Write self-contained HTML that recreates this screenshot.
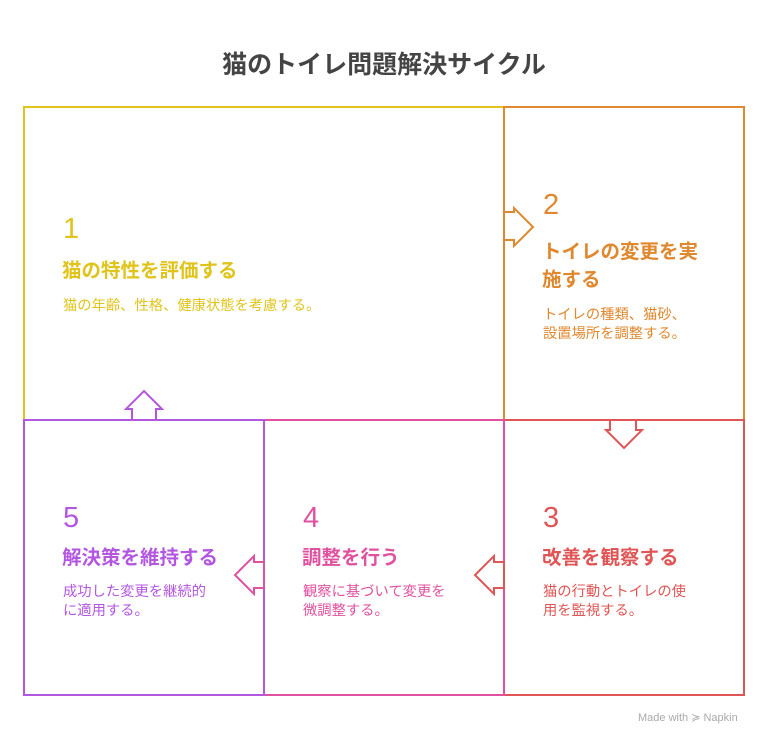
<!DOCTYPE html>
<html><head><meta charset="utf-8"><style>
body{margin:0;width:768px;height:744px;background:#fff;position:relative;overflow:hidden;font-family:"Liberation Sans","Noto Sans CJK JP",sans-serif}
.t{position:absolute;white-space:nowrap}
.n{font-size:29px;line-height:30px}
.h{font-size:19.5px;font-weight:bold;line-height:28px}
.d{font-size:14.3px;line-height:19px}
</style></head><body>
<div class="t" style="left:0;width:768px;text-align:center;top:49px;font-size:25px;font-weight:bold;color:#444;line-height:32px">猫のトイレ問題解決サイクル</div>
<svg width="768" height="744" style="position:absolute;left:0;top:0" fill="#fff" stroke-width="2">
<rect x="24" y="107" width="480" height="313" stroke="#e0c41c"/>
<rect x="504" y="107" width="240" height="313" stroke="#e0882e"/>
<rect x="504" y="420" width="240" height="275" stroke="#e05555"/>
<rect x="264" y="420" width="240" height="275" stroke="#e052a0"/>
<rect x="24" y="420" width="240" height="275" stroke="#b457e0"/>
<polygon points="504,212 514,212 514,208 533,227 514,246 514,240 504,240" stroke="#e0882e"/>
<polygon points="610,420 610,430 606,430 624,448 642,430 636,430 636,420" stroke="#e05555"/>
<polygon points="504,562 494,562 494,556 475,575 494,594 494,588 504,588" stroke="#e05555"/>
<polygon points="264,562 254,562 254,556 235,575 254,594 254,588 264,588" stroke="#e052a0"/>
<polygon points="132,420 132,409 126,409 144,391 162,409 156,409 156,420" stroke="#b457e0"/>
</svg>
<div class="t n" style="left:63px;top:214px;color:#e0c41c">1</div>
<div class="t h" style="left:62px;top:257px;color:#e0c41c">猫の特性を評価する</div>
<div class="t d" style="left:63px;top:297px;color:#e0c41c">猫の年齢、性格、健康状態を考慮する。</div>
<div class="t n" style="left:543px;top:190px;color:#e0882e">2</div>
<div class="t h" style="left:542px;top:238px;color:#e0882e">トイレの変更を実<br>施する</div>
<div class="t d" style="left:543px;top:306px;color:#e0882e">トイレの種類、猫砂、<br>設置場所を調整する。</div>
<div class="t n" style="left:543px;top:503px;color:#e05555">3</div>
<div class="t h" style="left:542px;top:544px;color:#e05555">改善を観察する</div>
<div class="t d" style="left:543px;top:583px;color:#e05555">猫の行動とトイレの使<br>用を監視する。</div>
<div class="t n" style="left:303px;top:503px;color:#e052a0">4</div>
<div class="t h" style="left:302px;top:544px;color:#e052a0">調整を行う</div>
<div class="t d" style="left:303px;top:583px;color:#e052a0">観察に基づいて変更を<br>微調整する。</div>
<div class="t n" style="left:63px;top:503px;color:#b457e0">5</div>
<div class="t h" style="left:62px;top:544px;color:#b457e0">解決策を維持する</div>
<div class="t d" style="left:63px;top:583px;color:#b457e0">成功した変更を継続的<br>に適用する。</div>
<div class="t" style="left:638px;top:711px;font-size:11px;color:#aaa">Made with ≽ Napkin</div>
</body></html>
